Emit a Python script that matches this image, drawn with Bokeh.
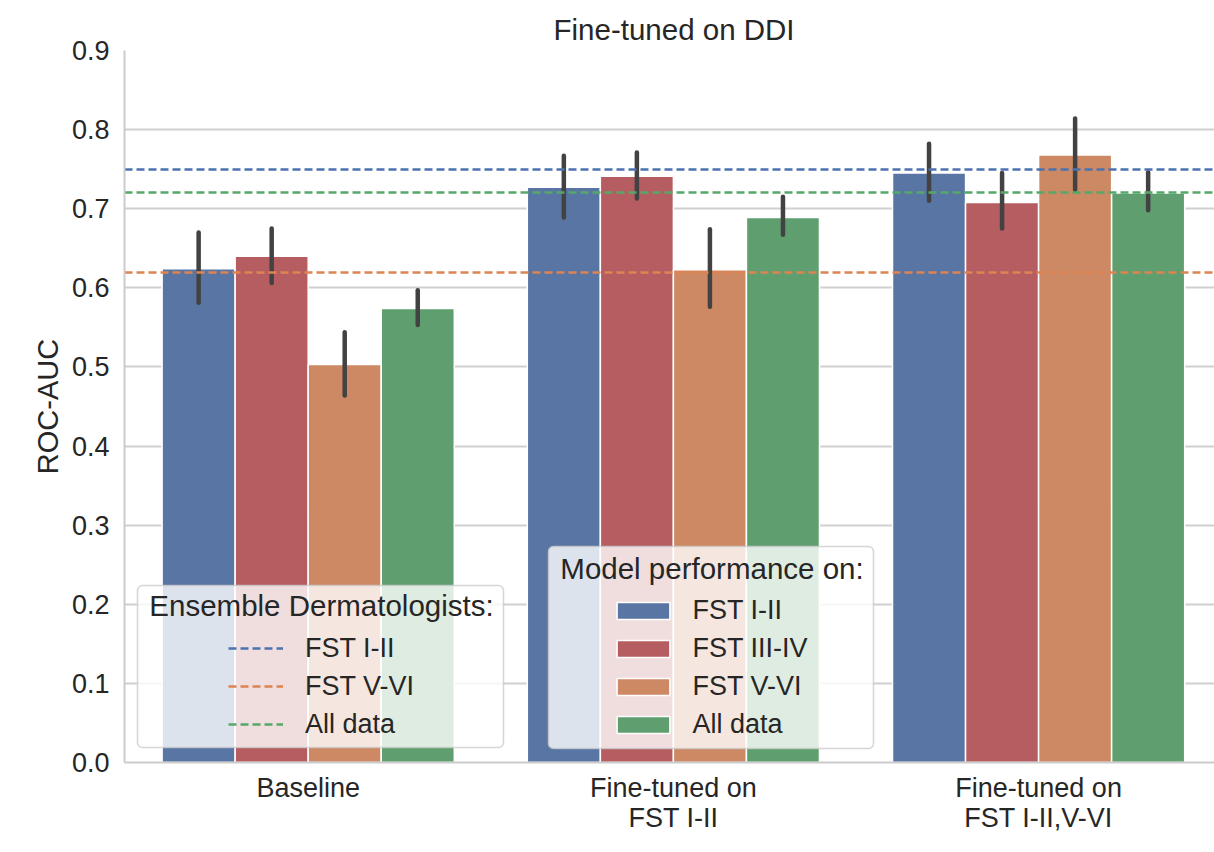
from bokeh.plotting import figure
from bokeh.models import (Range1d, FixedTicker, PrintfTickFormatter, Legend, LegendItem,
                          BoxAnnotation, Label)
from bokeh.embed import file_html
from bokeh.resources import INLINE

# ---------------- data ----------------
groups = ["Baseline", "Fine-tuned on\nFST I-II", "Fine-tuned on\nFST I-II,V-VI"]
subgroups = ["FST I-II", "FST III-IV", "FST V-VI", "All data"]

fst_12 = [0.624, 0.727, 0.745]
fst_34 = [0.640, 0.741, 0.708]
fst_56 = [0.503, 0.623, 0.768]
all_data = [0.574, 0.689, 0.720]

fst_12_lo = [0.581, 0.689, 0.710]
fst_12_hi = [0.670, 0.767, 0.782]
fst_34_lo = [0.606, 0.713, 0.675]
fst_34_hi = [0.675, 0.771, 0.745]
fst_56_lo = [0.464, 0.576, 0.724]
fst_56_hi = [0.544, 0.674, 0.814]
all_lo = [0.553, 0.667, 0.698]
all_hi = [0.597, 0.715, 0.746]

bar_colors = ["#5875a4", "#b55d60", "#cc8963", "#5f9e6e"]

derm_labels = ["FST I-II", "FST V-VI", "All data"]
derm_values = [0.75, 0.62, 0.72]
derm_colors = ["#4c72b0", "#dd8452", "#55a868"]

y_ticks = [0.0, 0.1, 0.2, 0.3, 0.4, 0.5, 0.6, 0.7, 0.8, 0.9]

# ---------------- layout ----------------
FONT = "Liberation Sans"
TXT = "#262626"
W, H = 1214, 852
BL, BT, BB = 124, 50, 90
FW, FH = W - BL, H - BT - BB
PX_PER_X = 365.2
X0 = -0.503
X1 = X0 + FW / PX_PER_X
Y0, Y1 = 0.0, 0.9


def sx(px):  # page pixel -> data x
    return X0 + (px - BL) / PX_PER_X


def sy(py):  # page pixel -> data y
    return Y1 - (py - BT) / FH * (Y1 - Y0)


p = figure(width=W, height=H, output_backend="svg", toolbar_location=None,
           x_range=Range1d(X0, X1), y_range=Range1d(Y0, Y1),
           min_border_left=BL, min_border_right=0, min_border_top=BT, min_border_bottom=BB)
p.outline_line_color = None
p.background_fill_color = "white"
p.border_fill_color = "white"

p.title.text = "Fine-tuned on DDI"
p.title.align = "left"
p.title.offset = 429
p.title.standoff = 10
p.title.text_font = FONT
p.title.text_font_size = "29.5px"
p.title.text_font_style = "normal"
p.title.text_color = TXT

p.xgrid.visible = False
p.ygrid.grid_line_color = "#d0d0d0"
p.ygrid.grid_line_width = 2
p.ygrid.ticker = FixedTicker(ticks=y_ticks)

p.yaxis.ticker = FixedTicker(ticks=y_ticks)
p.yaxis.formatter = PrintfTickFormatter(format="%.1f")
p.xaxis.ticker = FixedTicker(ticks=list(range(len(groups))))
p.xaxis.major_label_overrides = {i: g for i, g in enumerate(groups)}

for ax in (p.xaxis, p.yaxis):
    ax.axis_line_color = "#cccccc"
    ax.axis_line_width = 2
    ax.major_tick_line_color = None
    ax.minor_tick_line_color = None
    ax.major_tick_out = 0
    ax.major_tick_in = 0
    ax.major_label_text_font = FONT
    ax.major_label_text_font_size = "27px"
    ax.major_label_text_color = TXT
p.xaxis.major_label_standoff = 10
p.xaxis.major_label_text_line_height = 1.0
p.yaxis.major_label_standoff = 15
p.yaxis.axis_label = "ROC-AUC"
p.yaxis.axis_label_text_font = FONT
p.yaxis.axis_label_text_font_size = "29px"
p.yaxis.axis_label_text_font_style = "normal"
p.yaxis.axis_label_text_color = TXT
p.yaxis.axis_label_standoff = 5

# ---------------- bars ----------------
values = [fst_12, fst_34, fst_56, all_data]
lows = [fst_12_lo, fst_34_lo, fst_56_lo, all_lo]
highs = [fst_12_hi, fst_34_hi, fst_56_hi, all_hi]
n_sub = len(subgroups)
bw = 0.8 / n_sub

bar_renderers = []
xs_all = []
for j in range(n_sub):
    xs = [i + (j - (n_sub - 1) / 2) * bw for i in range(len(groups))]
    xs_all.append(xs)
    r = p.vbar(x=xs, top=values[j], bottom=0, width=bw, fill_color=bar_colors[j],
               line_color="white", line_width=1.5)
    bar_renderers.append(r)

for j in range(n_sub):
    p.segment(x0=xs_all[j], y0=lows[j], x1=xs_all[j], y1=highs[j],
              line_color="#424242", line_width=4.5, line_cap="round")

derm_renderers = []
for lab, v, c in zip(derm_labels, derm_values, derm_colors):
    r = p.hspan(y=[v], line_color=c, line_width=2.5, line_dash="8 4")
    derm_renderers.append(r)

# ---------------- legends ----------------
box1 = BoxAnnotation(left=sx(137), right=sx(503), top=sy(585), bottom=sy(747),
                     fill_color="white", fill_alpha=0.8, line_color="#cccccc",
                     line_alpha=0.8, line_width=1.5, border_radius=5)
box2 = BoxAnnotation(left=sx(548), right=sx(873), top=sy(546), bottom=sy(748),
                     fill_color="white", fill_alpha=0.8, line_color="#cccccc",
                     line_alpha=0.8, line_width=1.5, border_radius=5)
p.add_layout(box1)
p.add_layout(box2)

ROW_H, SPACING = 31, 7


def make_legend(items, glyph_left_px, first_center_px, gw, gh, standoff):
    n = len(items)
    top = first_center_px - ROW_H / 2
    bottom = top + n * ROW_H + (n - 1) * SPACING
    leg = Legend(items=items, location=(glyph_left_px - BL, (BT + FH) - bottom),
                 orientation="vertical", glyph_width=gw, glyph_height=gh,
                 label_standoff=standoff, label_height=ROW_H, spacing=SPACING,
                 padding=0, margin=0, border_line_color=None, background_fill_alpha=0,
                 label_text_font=FONT, label_text_font_size="27px", label_text_color=TXT)
    return leg


leg1 = make_legend([LegendItem(label=l, renderers=[r]) for l, r in zip(derm_labels, derm_renderers)],
                   228, 648, 55, 20, 22)
leg2 = make_legend([LegendItem(label=l, renderers=[r]) for l, r in zip(subgroups, bar_renderers)],
                   609.5, 610, 66, 21, 17)
p.add_layout(leg1, "center")
p.add_layout(leg2, "center")

t1 = Label(x=sx(321), y=sy(605), text="Ensemble Dermatologists:", text_align="center",
           text_baseline="alphabetic", text_font=FONT, text_font_size="29.5px", text_color=TXT)
t2 = Label(x=sx(711.5), y=sy(568), text="Model performance on:", text_align="center",
           text_baseline="alphabetic", text_font=FONT, text_font_size="29.5px", text_color=TXT)
p.add_layout(t1)
p.add_layout(t2)

open("out.html", "w").write(file_html(p, INLINE))
